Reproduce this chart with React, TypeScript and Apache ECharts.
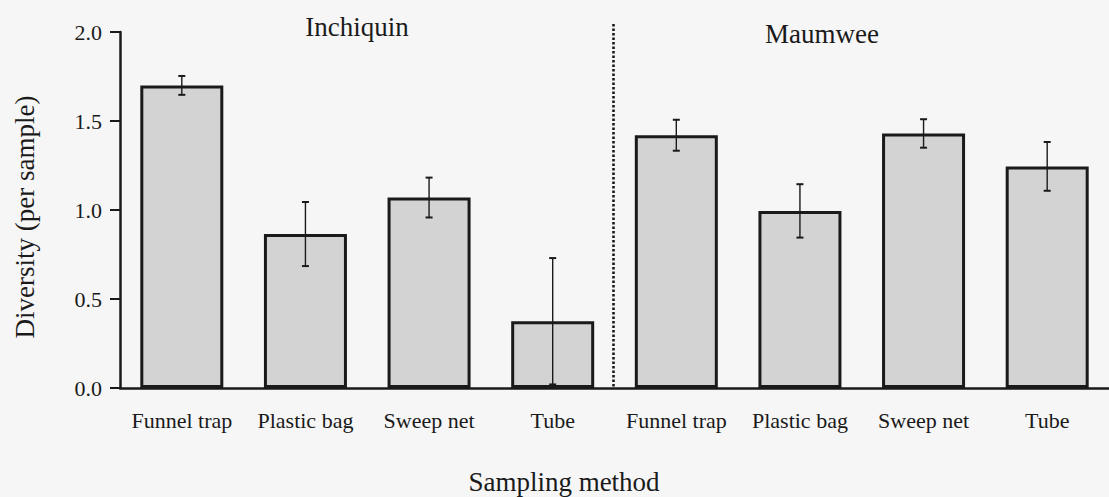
import React, { useEffect, useRef } from "react";
import * as echarts from "echarts";

// Sampling methods along the x axis (four per site)
const categories = [
  "Funnel trap", "Plastic bag", "Sweep net", "Tube",
  "Funnel trap", "Plastic bag", "Sweep net", "Tube",
];
const sites = ["Inchiquin", "Maumwee"];
// Mean diversity per sample and its standard error
const means = [1.70, 0.865, 1.07, 0.375, 1.42, 0.995, 1.43, 1.245];
const errors = [0.053, 0.18, 0.112, 0.355, 0.087, 0.15, 0.08, 0.137];
const yTicks = [0, 0.5, 1.0, 1.5, 2.0];
// the dotted divider sits after this category index
const dividerAfter = 3;

const FONT = "'Liberation Serif', 'Times New Roman', serif";
const INK = "#1a1a1a";

export default function App() {
  const ref = useRef<HTMLDivElement>(null);

  useEffect(() => {
    if (!ref.current) return;
    const chart = echarts.init(ref.current, undefined, { renderer: "svg" });

    chart.setOption({
      animation: false,
      backgroundColor: "#f6f6f6",
      grid: { left: 120, right: -6, top: 32, bottom: 109, containLabel: false },
      xAxis: {
        type: "category",
        data: categories,
        axisLine: { lineStyle: { color: INK, width: 2.5 } },
        axisTick: { show: false },
        axisLabel: {
          color: INK,
          fontFamily: FONT,
          fontSize: 22,
          margin: 21,
          interval: 0,
        },
      },
      yAxis: {
        type: "value",
        min: yTicks[0],
        max: yTicks[yTicks.length - 1],
        interval: 0.5,
        axisLine: { show: true, lineStyle: { color: INK, width: 2.5 } },
        axisTick: { show: true, length: 10, lineStyle: { color: INK, width: 2 } },
        splitLine: { show: false },
        axisLabel: {
          color: INK,
          fontFamily: FONT,
          fontSize: 22,
          margin: 18,
          formatter: (v: number) => v.toFixed(1),
        },
      },
      graphic: [
        {
          type: "text",
          x: 357,
          y: 27,
          style: {
            text: sites[0],
            font: `27px ${FONT}`,
            fill: INK,
            align: "center",
            verticalAlign: "middle",
          },
        },
        {
          type: "text",
          x: 822,
          y: 34,
          style: {
            text: sites[1],
            font: `27px ${FONT}`,
            fill: INK,
            align: "center",
            verticalAlign: "middle",
          },
        },
        {
          type: "text",
          x: 564,
          y: 482,
          style: {
            text: "Sampling method",
            font: `27px ${FONT}`,
            fill: INK,
            align: "center",
            verticalAlign: "middle",
          },
        },
        {
          type: "text",
          x: 25,
          y: 217,
          rotation: Math.PI / 2,
          style: {
            text: "Diversity (per sample)",
            font: `27px ${FONT}`,
            fill: INK,
            align: "center",
            verticalAlign: "middle",
          },
        },
      ],
      series: [
        {
          type: "bar",
          data: means,
          barWidth: 83,
          itemStyle: {
            color: "#d3d3d3",
            borderColor: INK,
            borderWidth: 3,
          },
          z: 2,
        },
        {
          type: "custom",
          data: means.map((m, i) => [i, m, errors[i]]),
          encode: { x: 0, y: 1 },
          z: 3,
          renderItem: (params: any, api: any) => {
            const i = api.value(0);
            const m = api.value(1);
            const e = api.value(2);
            const hi = api.coord([i, m + e]);
            const lo = api.coord([i, m - e]);
            const cap = 3.5;
            const style = { stroke: INK, lineWidth: 1.4 };
            return {
              type: "group",
              children: [
                { type: "line", shape: { x1: hi[0], y1: hi[1], x2: lo[0], y2: lo[1] }, style },
                { type: "line", shape: { x1: hi[0] - cap, y1: hi[1], x2: hi[0] + cap, y2: hi[1] }, style: { ...style, lineWidth: 2 } },
                { type: "line", shape: { x1: lo[0] - cap, y1: lo[1], x2: lo[0] + cap, y2: lo[1] }, style: { ...style, lineWidth: 2 } },
              ],
            };
          },
        },
        {
          type: "custom",
          data: [[dividerAfter]],
          encode: { x: 0 },
          clip: false,
          z: 1,
          renderItem: (params: any, api: any) => {
            const i = api.value(0);
            const band = api.size([1, 0])[0];
            const top = api.coord([i, 2.045]);
            const bottom = api.coord([i, 0]);
            const x = top[0] + band / 2 - 1;
            return {
              type: "line",
              shape: { x1: x, y1: top[1], x2: x, y2: bottom[1] },
              style: { stroke: INK, lineWidth: 2.6, lineDash: [2.5, 2] },
            };
          },
        },
      ],
    });

    return () => chart.dispose();
  }, []);

  return (
    <div
      ref={ref}
      style={{ position: "fixed", left: 0, top: 0, width: 1109, height: 497 }}
    />
  );
}
